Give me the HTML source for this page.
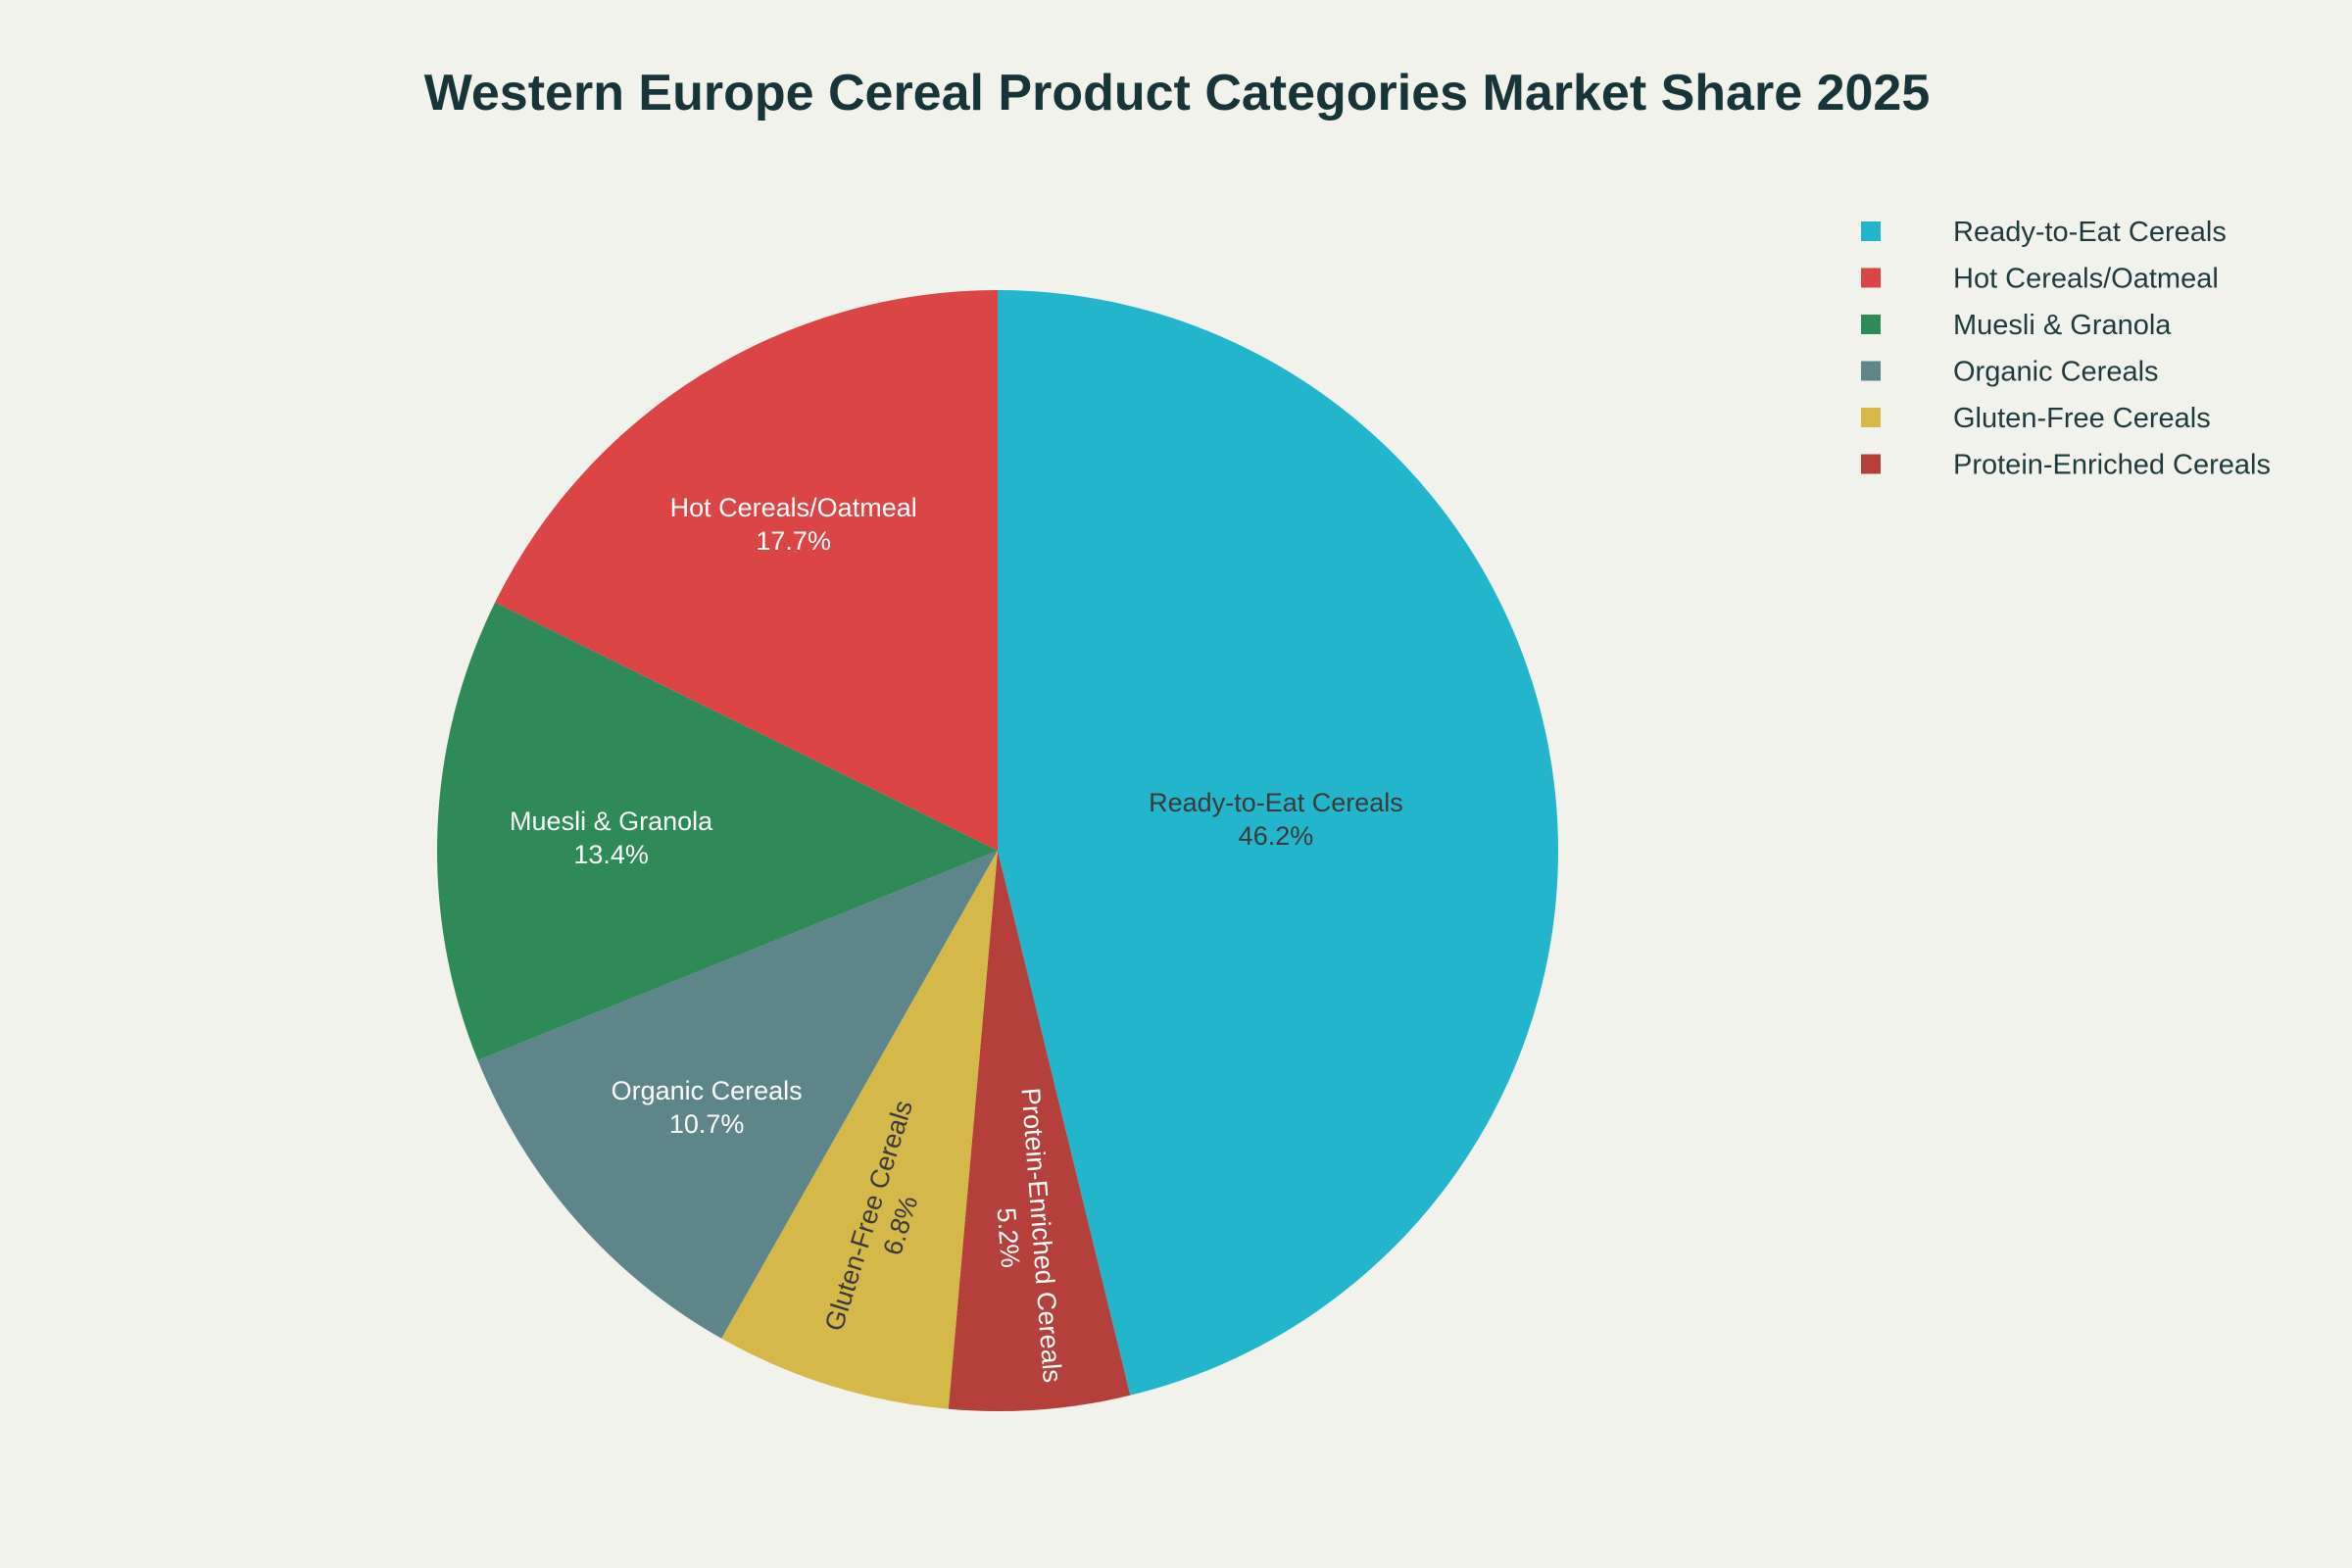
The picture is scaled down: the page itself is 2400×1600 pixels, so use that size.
<!DOCTYPE html>
<html><head><meta charset="utf-8">
<style>
html,body{margin:0;padding:0;background:#f2f2ec;}
svg{display:block;font-family:"Liberation Sans",sans-serif;}
</style></head>
<body>
<svg id="chart" width="2400" height="1600" viewBox="0 0 2400 1600" xmlns="http://www.w3.org/2000/svg">
<rect width="2400" height="1600" fill="#f2f2ec"/>
<text x="1201" y="112" text-anchor="middle" font-size="52" font-weight="bold" fill="#173538">Western Europe Cereal Product Categories Market Share 2025</text>
<g id="slices"></g>
<g id="labels"></g>
<g id="legend"></g>
</svg>
<script>
const categories = ["Ready-to-Eat Cereals","Protein-Enriched Cereals","Gluten-Free Cereals","Organic Cereals","Muesli & Granola","Hot Cereals/Oatmeal"];
const values = [46.2, 5.2, 6.8, 10.7, 13.4, 17.7];
const colors = ["#22b5cc","#b5403b","#d4b94a","#5e868a","#2e8b57","#dc4545"];
const textColors = ["#3a3a3a","#ffffff","#3a3a3a","#ffffff","#ffffff","#ffffff"];
const legendOrder = ["Ready-to-Eat Cereals","Hot Cereals/Oatmeal","Muesli & Granola","Organic Cereals","Gluten-Free Cereals","Protein-Enriched Cereals"];

const NS = "http://www.w3.org/2000/svg";
const cx = 1018, cy = 868, R = 572;
const total = values.reduce((a,b)=>a+b,0);
function pt(frac, r){ const a = frac*2*Math.PI; return [cx + r*Math.sin(a), cy - r*Math.cos(a)]; }
const slicesG = document.getElementById('slices');
const labelsG = document.getElementById('labels');
let cum = 0;
values.forEach((v,i)=>{
  const f0 = cum/total, f1 = (cum+v)/total; cum += v;
  const [x0,y0] = pt(f0,R), [x1,y1] = pt(f1,R);
  const large = (f1-f0) > 0.5 ? 1 : 0;
  const p = document.createElementNS(NS,'path');
  p.setAttribute('d',`M${cx},${cy} L${x0},${y0} A${R},${R} 0 ${large} 1 ${x1},${y1} Z`);
  p.setAttribute('fill',colors[i]);
  
  
  slicesG.appendChild(p);
  const fm = (f0+f1)/2;
  const share = v/total;
  const rf = share > 0.3 ? 0.5 : 0.69;
  const [lx,ly] = pt(fm, R*rf);
  const g = document.createElementNS(NS,'g');
  
  
  let rot = 0;
  if (share < 0.08) {
    const a = fm*2*Math.PI;
    rot = Math.atan2(Math.cos(-a)*1, 0) ; // placeholder
    let deg = Math.atan2(-Math.cos(a), Math.sin(a))*180/Math.PI; // radial dir angle
    if (deg > 90) deg -= 180; else if (deg < -90) deg += 180;
    rot = deg;
  }
  g.setAttribute('transform',`translate(${lx},${ly}) rotate(${rot})`);
  const t1 = document.createElementNS(NS,'text');
  t1.setAttribute('text-anchor','middle'); t1.setAttribute('font-size','27'); t1.setAttribute('fill',textColors[i]);
  t1.setAttribute('y','-6');
  t1.textContent = categories[i];
  const t2 = document.createElementNS(NS,'text');
  t2.setAttribute('text-anchor','middle'); t2.setAttribute('font-size','27'); t2.setAttribute('fill',textColors[i]);
  t2.setAttribute('y','28');
  t2.textContent = v.toFixed(1)+'%';
  g.appendChild(t1); g.appendChild(t2);
  labelsG.appendChild(g);
});
const legendG = document.getElementById('legend');
legendOrder.forEach((name,j)=>{
  const i = categories.indexOf(name);
  const y = 236 + j*47.5;
  const g = document.createElementNS(NS,'g');
  
  
  const r = document.createElementNS(NS,'rect');
  r.setAttribute('x',1899); r.setAttribute('y',y-10); r.setAttribute('width',20); r.setAttribute('height',20);
  r.setAttribute('fill',colors[i]);
  const t = document.createElementNS(NS,'text');
  t.setAttribute('x',1993); t.setAttribute('y',y+10); t.setAttribute('font-size','29'); t.setAttribute('fill','#1f3a3d');
  t.textContent = name;
  g.appendChild(r); g.appendChild(t);
  legendG.appendChild(g);
});
</script>
</body></html>
